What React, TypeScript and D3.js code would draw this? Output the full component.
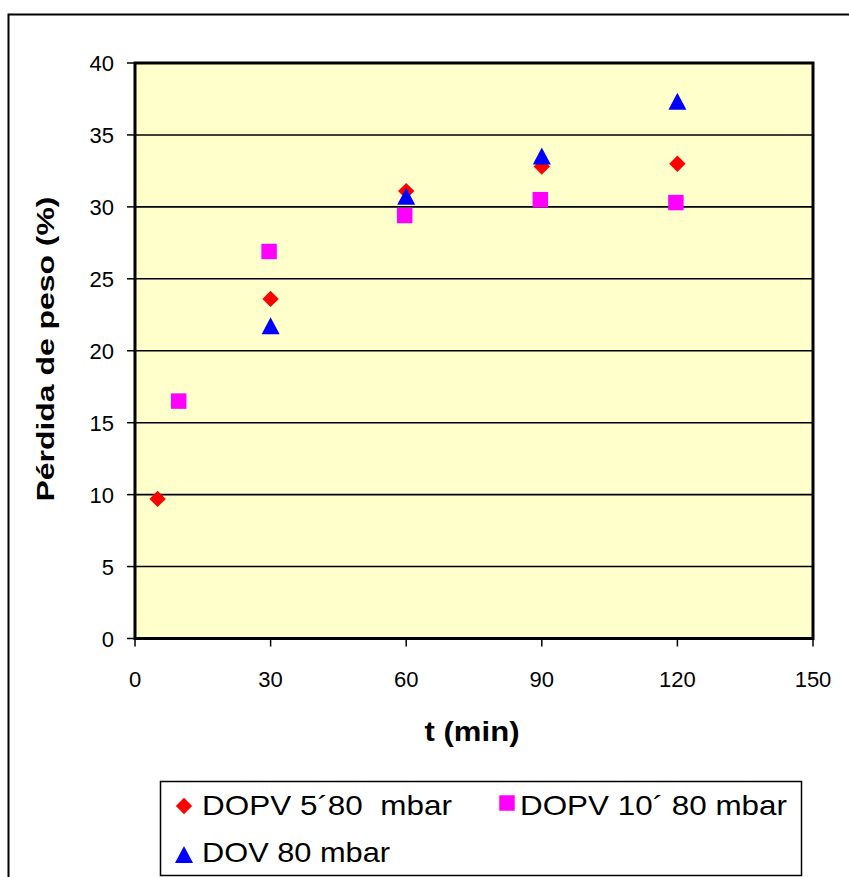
import React from "react";
import * as d3 from "d3";

const xTicks = [0, 30, 60, 90, 120, 150];
const yTicks = [0, 5, 10, 15, 20, 25, 30, 35, 40];

const dopv5X = [5, 30, 60, 90, 120];
const dopv5Y = [9.7, 23.6, 31.1, 32.8, 33.0];
const dopv10X = [10, 30, 60, 90, 120];
const dopv10Y = [16.5, 26.9, 29.4, 30.5, 30.3];
const dovX = [30, 60, 90, 120];
const dovY = [21.7, 30.7, 33.5, 37.3];

const seriesNames = ["DOPV 5´80  mbar", "DOPV 10´ 80 mbar", "DOV 80 mbar"];

const W = 849;
const H = 877;
const left = 135;
const right = 813;
const top = 63;
const bottom = 638.5;

export default function App() {
  const x = d3.scaleLinear().domain([0, 150]).range([left, right]);
  const y = d3.scaleLinear().domain([0, 40]).range([bottom, top]);
  const font = "'Liberation Sans', Arial, sans-serif";

  const diamond = d3.symbol().type(d3.symbolDiamond2).size(170)()!;
  const square = d3.symbol().type(d3.symbolSquare).size(240)()!;
  const triangle = (cx: number, cy: number) =>
    `M${cx},${cy - 9}L${cx + 9},${cy + 8}L${cx - 9},${cy + 8}Z`;

  return (
    <svg
      width={W}
      height={H}
      style={{ position: "absolute", left: 0, top: 0 }}
      fontFamily={font}
    >
      <rect x={0} y={0} width={W} height={H} fill="#ffffff" />
      <rect x={8.5} y={14.5} width={W + 10} height={H + 10} fill="none" stroke="#000" strokeWidth={2} />
      <rect x={left} y={top} width={right - left} height={bottom - top} fill="#FFFFCC" />
      {yTicks.filter((t) => t > 0 && t < 40).map((t) => (
        <line key={"g" + t} x1={left} x2={right} y1={y(t)} y2={y(t)} stroke="#000" strokeWidth={1.6} />
      ))}
      <rect x={left} y={top} width={right - left} height={bottom - top} fill="none" stroke="#000" strokeWidth={3} />
      {yTicks.map((t) => (
        <g key={"y" + t}>
          <line x1={left - 8} x2={left} y1={y(t)} y2={y(t)} stroke="#000" strokeWidth={1.5} />
          <text x={114} y={y(t) + 8} textAnchor="end" fontSize={22}>{t}</text>
        </g>
      ))}
      {xTicks.map((t) => (
        <g key={"x" + t}>
          <line x1={x(t)} x2={x(t)} y1={bottom} y2={bottom + 8} stroke="#000" strokeWidth={1.5} />
          <text x={x(t)} y={687} textAnchor="middle" fontSize={22}>{t}</text>
        </g>
      ))}
      <text x={472} y={741} textAnchor="middle" fontSize={28} fontWeight="bold" textLength={95} lengthAdjust="spacingAndGlyphs">t (min)</text>
      <text
        transform={`translate(54, 349) rotate(-90)`}
        textAnchor="middle"
        fontSize={24}
        fontWeight="bold"
        textLength={305}
        lengthAdjust="spacingAndGlyphs"
      >
        Pérdida de peso (%)
      </text>

      {dopv10X.map((v, i) => (
        <path key={"s" + i} d={square} transform={`translate(${x(v) - 1.5},${y(dopv10Y[i])})`} fill="#FF00FF" />
      ))}
      {dopv5X.map((v, i) => (
        <path key={"d" + i} d={diamond} transform={`translate(${x(v)},${y(dopv5Y[i])})`} fill="#FF0000" />
      ))}
      {dovX.map((v, i) => (
        <path key={"t" + i} d={triangle(x(v), y(dovY[i]))} fill="#0000FF" />
      ))}

      <rect x={160.5} y={781.5} width={641} height={94} fill="#fff" stroke="#000" strokeWidth={1.5} />
      <path d={diamond} transform="translate(184,806)" fill="#FF0000" />
      <text x={202} y={815} fontSize={28} textLength={250} lengthAdjust="spacingAndGlyphs" style={{ whiteSpace: "pre" }}>{seriesNames[0]}</text>
      <path d={square} transform="translate(507,803)" fill="#FF00FF" />
      <text x={520} y={815} fontSize={28} textLength={267} lengthAdjust="spacingAndGlyphs" style={{ whiteSpace: "pre" }}>{seriesNames[1]}</text>
      <path d={triangle(184, 855)} fill="#0000FF" />
      <text x={202} y={862} fontSize={28} textLength={188} lengthAdjust="spacingAndGlyphs" style={{ whiteSpace: "pre" }}>{seriesNames[2]}</text>
    </svg>
  );
}
